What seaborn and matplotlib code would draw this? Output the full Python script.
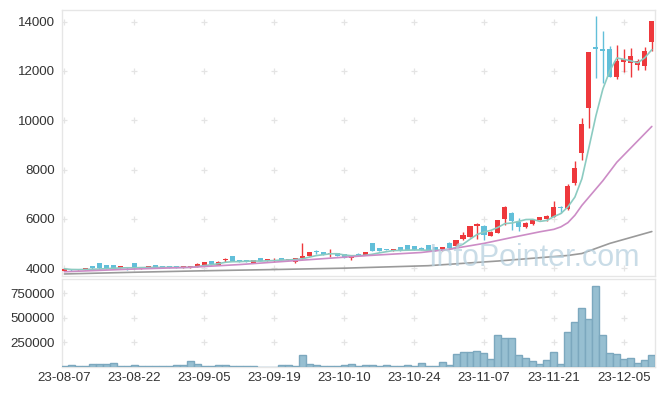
import numpy as np
import pandas as pd
import matplotlib
matplotlib.use("Agg")
import matplotlib.pyplot as plt
import seaborn as sns

#%% Data (one entry per trading day)

open_ = [3900, 3940, 3920, 3960, 4090, 4215, 4130, 4120, 4030, 4040,
         4210, 3990, 4035, 4130, 4080, 4045, 4080, 4035, 4030, 4065,
         4100, 4290, 4140, 4340, 4500, 4340, 4330, 4230, 4410, 4310,
         4300, 4400, 4345, 4240, 4410, 4500, 4670, 4660, 4570, 4620,
         4565, 4420, 4555, 4540, 5025, 4820, 4745, 4700, 4860, 4945,
         4900, 4835, 4945, 4875, 4715, 5040, 4890, 5200, 5280, 5710,
         5710, 5320, 5440, 5985, 6250, 5875, 5685, 5780, 5970, 5985,
         6090, 6480, 6390, 7440, 8680, 10480, 12950, 12910, 12910, 11770,
         12370, 12310, 12230, 12210, 13190]
high = [3990, 3960, 3950, 4010, 4100, 4220, 4140, 4130, 4060, 4050,
        4220, 4060, 4060, 4140, 4090, 4060, 4090, 4050, 4080, 4200,
        4260, 4300, 4300, 4430, 4510, 4350, 4340, 4340, 4420, 4380,
        4400, 4410, 4370, 4410, 5010, 4680, 4740, 4670, 4780, 4630,
        4580, 4510, 4600, 4680, 5030, 4830, 4760, 4790, 4870, 4950,
        4910, 4850, 4950, 4880, 4860, 5050, 5150, 5460, 5720, 5830,
        5760, 5500, 5970, 6540, 6280, 6020, 5860, 6000, 6080, 6150,
        6710, 6540, 7400, 8360, 10080, 12760, 14240, 13620, 13000, 13070,
        12880, 12940, 12500, 12990, 14030]
low = [3880, 3900, 3910, 3940, 3990, 3990, 3990, 3980, 4000, 3930,
       3980, 3980, 4020, 4040, 4010, 4020, 4010, 4020, 4020, 4050,
       4090, 4150, 4130, 4270, 4290, 4250, 4240, 4220, 4300, 4300,
       4240, 4330, 4330, 4230, 4380, 4490, 4560, 4530, 4440, 4500,
       4410, 4350, 4520, 4530, 4710, 4690, 4720, 4690, 4690, 4750,
       4730, 4730, 4690, 4690, 4700, 4830, 4880, 5150, 5270, 5200,
       5140, 5300, 5420, 5750, 5550, 5520, 5650, 5760, 5950, 5900,
       6080, 6230, 6380, 7360, 8390, 9700, 11730, 11520, 11750, 11670,
       11970, 11770, 12040, 12040, 12810]
close = [3980, 3925, 3940, 3975, 4000, 4010, 4010, 4010, 4045, 4025,
         4010, 4050, 4045, 4050, 4020, 4035, 4020, 4040, 4070, 4180,
         4240, 4190, 4250, 4355, 4300, 4260, 4250, 4330, 4310, 4370,
         4315, 4340, 4355, 4400, 4500, 4660, 4655, 4540, 4585, 4510,
         4420, 4500, 4545, 4660, 4715, 4700, 4735, 4780, 4700, 4755,
         4740, 4740, 4700, 4700, 4850, 4835, 5145, 5350, 5710, 5805,
         5350, 5480, 5955, 6470, 5930, 5685, 5845, 5985, 6065, 6120,
         6470, 6460, 7333, 8050, 9830, 12750, 12910, 12800, 11770, 12400,
         12480, 12600, 12400, 12800, 14020]
volume = [10000, 20000, 2000, 10000, 30000, 30000, 30000, 40000, 10000, 10000,
          20000, 10000, 10000, 10000, 10000, 10000, 20000, 20000, 60000, 30000,
          10000, 10000, 20000, 20000, 10000, 10000, 10000, 10000, 1000, 1000,
          1000, 20000, 20000, 10000, 120000, 30000, 20000, 10000, 10000, 3000,
          20000, 30000, 10000, 20000, 20000, 10000, 20000, 10000, 10000, 20000,
          10000, 40000, 10000, 10000, 50000, 20000, 130000, 150000, 150000, 160000,
          140000, 80000, 325000, 295000, 295000, 120000, 90000, 60000, 30000, 70000,
          150000, 30000, 355000, 455000, 598000, 486000, 821000, 325000, 142000, 132000,
          81000, 91000, 40000, 71000, 122000]

# moving averages at a few days
ma20_day = [0, 9, 18, 25, 34, 43, 51, 55, 60, 64, 68, 70, 71, 72, 73, 74, 77, 79, 84]
ma20_val = [3860, 3960, 4040, 4150, 4330, 4510, 4640, 4770, 5010, 5250, 5480, 5580,
            5680, 5850, 6150, 6550, 7550, 8300, 9750]
ma60_day = [0, 10, 20, 30, 40, 52, 62, 68, 72, 74, 78, 84]
ma60_val = [3770, 3840, 3900, 3950, 4005, 4105, 4295, 4430, 4520, 4600, 5010, 5490]

tick_days = [0, 10, 20, 30, 40, 50, 60, 70, 80]
tick_labels = ["23-08-07", "23-08-22", "23-09-05", "23-09-19", "23-10-10",
               "23-10-24", "23-11-07", "23-11-21", "23-12-05"]
price_ticks = [4000, 6000, 8000, 10000, 12000, 14000]
vol_ticks = [250000, 500000, 750000]

#%% Frame

df = pd.DataFrame({"open": open_, "high": high, "low": low,
                   "close": close, "volume": volume})
df["day"] = np.arange(len(df))
df["ma5"] = df["close"].rolling(5, min_periods=1).mean()

RED = "#ee383c"
BLUE = "#62bfd9"
TEAL = "#8ccbc1"
PINK = "#cc8cc6"
GRAY = "#9a9a9a"
GRID = "#e4e4e4"

sns.set_theme(style="white")
plt.rcParams["font.family"] = ["Liberation Sans", "DejaVu Sans"]

fig = plt.figure(figsize=(6.65, 3.96), dpi=100)
ax = fig.add_axes([0.0932, 0.3038, 0.8917, 0.6709])
axv = fig.add_axes([0.0932, 0.074, 0.8917, 0.2215])

#%% Candles

up = df["close"] >= df["open"]
cols = np.where(up, RED, BLUE)
body_lo = np.minimum(df["open"], df["close"])
body_h = np.maximum((df["close"] - df["open"]).abs(), 45)

ax.vlines(df["day"], df["low"], df["high"], colors=cols, linewidth=1, zorder=2)
ax.bar(df["day"], body_h, bottom=body_lo, width=0.72, color=cols,
       linewidth=0, zorder=3)

sns.lineplot(x=df["day"], y=df["ma5"], ax=ax, color=TEAL, lw=1.2, zorder=4)
sns.lineplot(x=ma20_day, y=ma20_val, ax=ax, color=PINK, lw=1.2, zorder=4)
sns.lineplot(x=ma60_day, y=ma60_val, ax=ax, color=GRAY, lw=1.2, zorder=4)

ax.text(0.795, 0.037, "InfoPointer.com", transform=ax.transAxes,
        ha="center", va="baseline", fontsize=22, color="#b8d1df",
        alpha=0.75, zorder=5)

#%% Volume

sns.barplot(x=df["day"], y=df["volume"], ax=axv, color="#97bfd1",
            edgecolor="#7ca8be", linewidth=1, width=1, saturation=1,
            errorbar=None, zorder=3)

#%% Axes styling

for a, yt in [(ax, price_ticks), (axv, vol_ticks)]:
    gx, gy = np.meshgrid(tick_days, yt)
    a.plot(gx.ravel(), gy.ravel(), "+", color=GRID, ms=4, mew=0.9, zorder=0)
    a.set_xlim(-0.35, 84.45)
    a.set_yticks(yt)
    a.set_yticklabels([str(v) for v in yt])
    a.set_xlabel("")
    a.set_ylabel("")
    a.tick_params(length=0, labelsize=9.6, colors="#333333")
    a.tick_params(axis="y", pad=5)
    for s in a.spines.values():
        s.set_color("#e6e6e6")
        s.set_linewidth(1)

ax.set_ylim(3700, 14470)
ax.set_xticks(tick_days)
ax.set_xticklabels([])
axv.set_ylim(0, 895000)
axv.set_xticks(tick_days)
axv.set_xticklabels(tick_labels)
axv.tick_params(axis="x", pad=3.5)

fig.savefig("out.png", dpi=100)
